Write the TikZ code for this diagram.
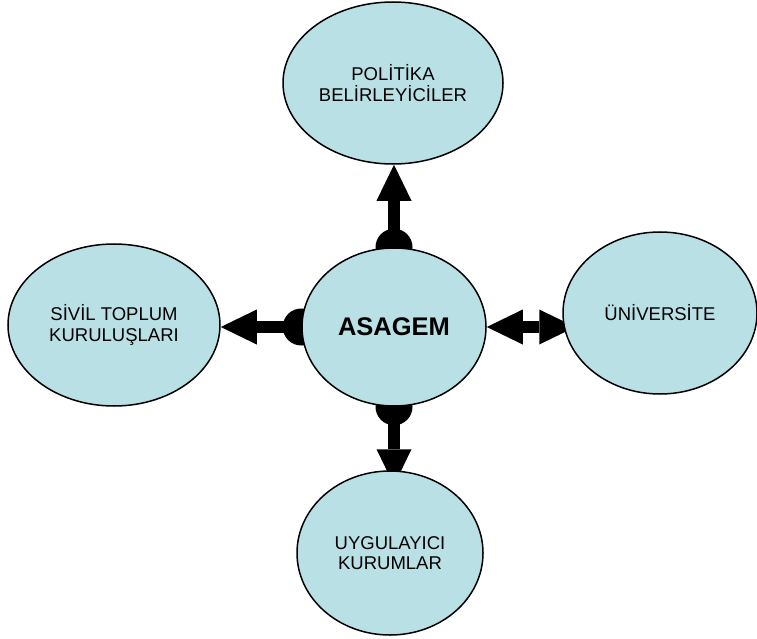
\documentclass[tikz,border=0pt]{standalone}
\usepackage{fontspec}
\setmainfont{Liberation Sans}
\usetikzlibrary{shapes.geometric,arrows.meta}
\pgfdeclarelayer{bg}
\pgfsetlayers{bg,main}
\definecolor{aqua}{RGB}{185,224,228}
\begin{document}
\begin{tikzpicture}[x=1bp,y=-1bp,
  blob/.style={ellipse, draw=black, line width=1.5bp, fill=aqua, inner sep=0pt,
    align=center, font=\fontsize{18.5bp}{20.5bp}\selectfont, text=black},
  conn/.style={line width=12bp, black},
  tipend/.style={-{Triangle[width=35bp,length=36bp,line width=0pt]}},
  tipboth/.style={{Triangle[width=35bp,length=36bp,line width=0pt]}-{Triangle[width=35bp,length=36bp,line width=0pt]}},
  dome/.style={fill=black}
]
\useasboundingbox (0,0) rectangle (757,639);

\node[blob, minimum width=220bp, minimum height=162bp] (top) at (393,83) {POL\.ITİKA\\BEL\.IRLEY\.IC\.ILER};
\node[blob, minimum width=184bp, minimum height=158bp, font=\fontsize{25.5bp}{28bp}\selectfont\bfseries] (asagem) at (394,327) {ASAGEM};
\node[blob, minimum width=212bp, minimum height=162bp] (left) at (114,325) {S\.IV\.IL TOPLUM\\KURULUŞLARI};
\node[blob, minimum width=194bp, minimum height=162bp] (right) at (660,313) {ÜN\.IVERS\.ITE};
\node[blob, minimum width=186bp, minimum height=164bp] (bot) at (390,553) {UYGULAYICI\\KURUMLAR};

\begin{pgfonlayer}{bg}
  \fill[dome] (asagem.north) circle[radius=18.5bp];
  \fill[dome] (asagem.south) circle[radius=18.5bp];
  \fill[dome] (asagem.west) circle[radius=18.5bp];
  \draw[conn, tipend] (asagem.north) -- (asagem.north |- top.south);
  \draw[conn, tipend, shorten >=-15bp] (asagem.south) -- (asagem.south |- bot.north);
  \draw[conn, tipend] (asagem.west) -- (asagem.west -| left.east);
  \draw[conn, tipboth, shorten >=-13bp] (asagem.east) -- (asagem.east -| right.west);
\end{pgfonlayer}
\end{tikzpicture}
\end{document}
